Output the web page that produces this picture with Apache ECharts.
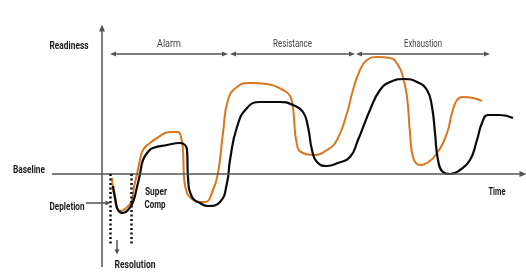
<!DOCTYPE html>
<html><head><meta charset="utf-8">
<script src="https://cdn.jsdelivr.net/npm/echarts@6/dist/echarts.min.js"></script>
<style>html,body{margin:0;padding:0;background:#fff}#c{width:526px;height:276px}</style>
</head><body><div id="c"></div>
<script>
// Time (t) vs readiness (r, 0 = baseline)
const orangeT = [10,13,18,23,30,32,35,38,41,48,55,68,76,79,81,82,85,90,96,103,111,116,121,126,135,148,165,181,188,191,195,201,211,225,235,245,251,258,265,275,288,296,301,305,308,311,318,325,335,345,350,355,361,371,380];
const orangeR = [-4,-26,-37,-35,-26,-13,0,14,24,31,36,42,42,37,24,-3,-19,-25,-28,-28,-16,1,41,74,87,91,90,84,78,66,29,21,19,24,34,61,84,104,114,117,116,109,97,77,41,17,9,11,21,41,61,74,77,76,73];
const blackT = [11,13,16,21,26,31,35,38,41,46,51,65,78,83,85,86,90,98,106,118,125,128,135,145,158,178,191,201,206,210,215,225,236,248,256,268,278,288,303,315,325,330,333,336,341,348,358,368,375,380,386,398,411];
const blackR = [-12,-23,-36,-39,-36,-28,-13,0,14,22,26,29,31,29,24,-3,-23,-29,-32,-28,-9,14,47,66,72,72,69,62,47,24,12,8,11,17,34,64,84,92,95,92,84,67,41,14,2,0,4,14,34,51,59,59,56];
const phaseNames = ['Alarm','Resistance','Exhaustion'];
const phaseStart = [11,131,257];
const phaseEnd = [123,250,385];
const resolutionStart = 8, resolutionEnd = 29; // dotted window
// annotation texts
const annTexts = ['Readiness','Baseline','Depletion','Super','Comp','Resolution','Time'];
const annPos = [[-33,128],[-73,4],[-35,-33],[54,-18],[53,-31],[33,-91],[395,-18]];
const annWidth = [39,32,35,22,21,41,17];
const phaseWidth = [24,39,38];

const FONT_FAMILY = "Roboto, 'DejaVu Sans', sans-serif";
const zip = (a,b)=>a.map((v,i)=>[v,b[i]]);
const AX = '#555';

const markLines = [];
markLines.push([{coord:[0,-93],symbol:'none'},{coord:[0,146],symbol:'triangle',symbolSize:[6,7]}]);
markLines.push([{coord:[-50,0],symbol:'none'},{coord:[421,0],symbol:'triangle',symbolSize:[6,7]}]);
phaseNames.forEach((n,i)=>{
  markLines.push([{coord:[phaseStart[i],120],symbol:'triangle',symbolSize:[5,6],symbolRotate:90},
                  {coord:[phaseEnd[i],120],symbol:'triangle',symbolSize:[5,6]}]);
});
markLines.push([{coord:[-16,-29],symbol:'none'},{coord:[6,-29],symbol:'triangle',symbolSize:[5,5]}]);
markLines.push([{coord:[15,-66],symbol:'none'},{coord:[15,-78],symbol:'triangle',symbolSize:[5,5]}]);

const dotted = [resolutionStart,resolutionEnd].map(t=>[{coord:[t,0]},{coord:[t,-71]}]);

const chart = echarts.init(document.getElementById('c'),null,{renderer:'canvas'});
chart.setOption({
  animation:false,
  backgroundColor:'#fff',
  grid:{left:0,right:0,top:0,bottom:0},
  xAxis:{type:'value',min:-102,max:424,show:false},
  yAxis:{type:'value',min:-102,max:174,show:false},
  series:[
    {type:'line',data:[],silent:true,
     markLine:{silent:true,symbol:'none',label:{show:false},
       lineStyle:{color:AX,width:1.5,type:'solid'},data:markLines}},
    {type:'line',data:[],silent:true,
     markLine:{silent:true,symbol:'none',label:{show:false},
       lineStyle:{color:'#111',width:2.5,type:[2,2.5]},data:dotted}},
    {type:'line',name:'orange',data:zip(orangeT,orangeR),smooth:0.5,showSymbol:false,
     lineStyle:{color:'#D9761E',width:2},z:3},
    {type:'line',name:'black',data:zip(blackT,blackR),smooth:0.5,showSymbol:false,
     lineStyle:{color:'#0a0a0a',width:2.2},z:4}
  ]
});

// text annotations, horizontally condensed to mimic the narrow source font
const ctx = document.createElement('canvas').getContext('2d');
function textEl(text, pos, width, bold, color){
  const font = (bold?'bold ':'') + '11px ' + FONT_FAMILY;
  ctx.font = font;
  const w = ctx.measureText(text).width;
  const p = chart.convertToPixel({gridIndex:0}, pos);
  return {type:'text', x:p[0], y:p[1], scaleX: width/w, silent:true,
    style:{text:text, font:font, fill:color, align:'center', verticalAlign:'middle'}};
}
const graphics = annTexts.map((t,i)=>textEl(t, annPos[i], annWidth[i], true, '#1a1a1a'))
  .concat(phaseNames.map((n,i)=>textEl(n, [(phaseStart[i]+phaseEnd[i])/2, 130], phaseWidth[i], false, '#444')));
chart.setOption({graphic:graphics});
</script></body></html>
